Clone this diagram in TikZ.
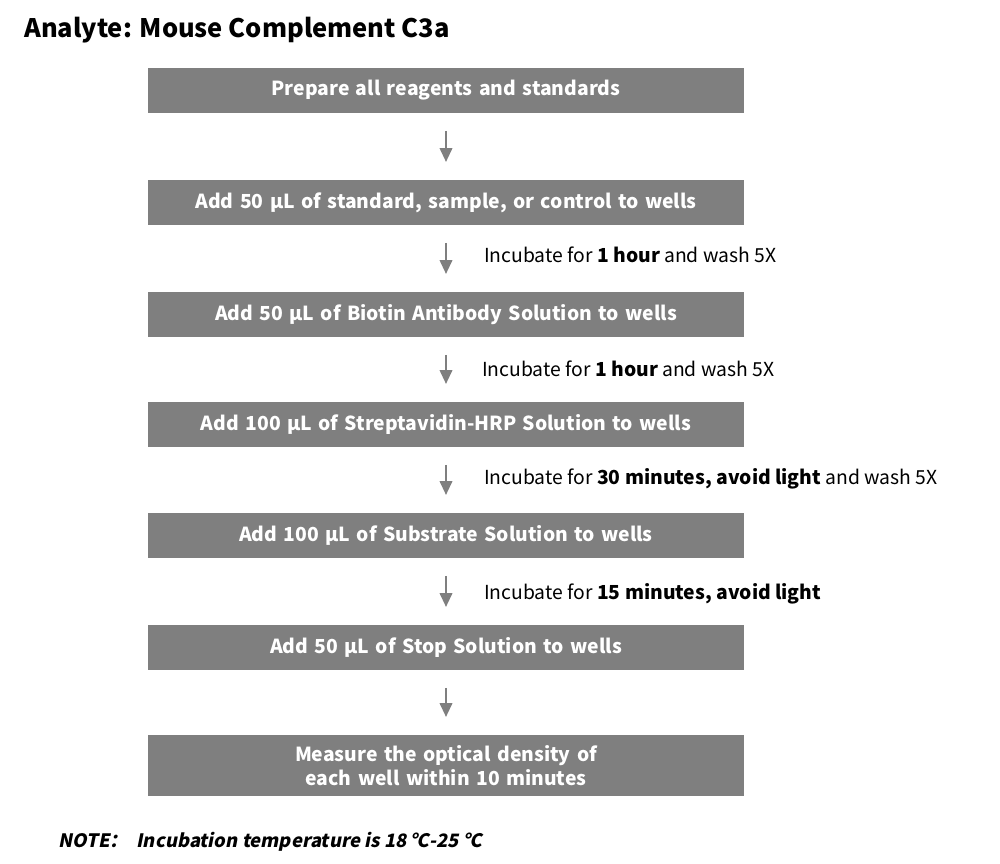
\documentclass[tikz,border=0pt]{standalone}
\usepackage{fontspec}
\setmainfont{Noto Sans CJK SC}
\newfontfamily\notefont[FakeSlant=0.2]{Noto Sans CJK SC}
\usetikzlibrary{positioning,arrows.meta}
\definecolor{stepgray}{HTML}{7F7F7F}
\begin{document}
\begin{tikzpicture}[x=0.02cm, y=-0.02cm,
    stepbox/.style={fill=stepgray, text=white, font=\bfseries\fontsize{11}{14}\selectfont,
        minimum width=11.92cm, minimum height=0.9cm, text width=11.2cm, align=center, inner sep=0pt},
    flow/.style={-{Triangle[width=7pt,length=8pt]}, line width=1.6pt, stepgray},
    info/.style={anchor=west, font=\fontsize{11}{14}\selectfont}]
    \useasboundingbox (0,0) rectangle (1000,864);

    % title
    \node[anchor=west, font=\bfseries\fontsize{14.5}{17}\selectfont] (title) at (18,30) {Analyte: Mouse Complement C3a};

    % steps
    \node[stepbox] (s1) at (446,90.5) {Prepare all reagents and standards};
    \node[stepbox] (s2) at (446,202.5) {Add 50 µL of standard, sample, or control to wells};
    \node[stepbox] (s3) at (446,314.5) {Add 50 µL of Biotin Antibody Solution to wells};
    \node[stepbox] (s4) at (446,424.5) {Add 100 µL of Streptavidin-HRP Solution to wells};
    \node[stepbox] (s5) at (446,535.5) {Add 100 µL of Substrate Solution to wells};
    \node[stepbox] (s6) at (446,647.5) {Add 50 µL of Stop Solution to wells};
    \node[stepbox, minimum height=1.22cm] (s7) at (446,765.5) {Measure the optical density of each well within 10 minutes};

    % arrows
    \foreach \a/\b in {s1/s2,s2/s3,s3/s4,s4/s5,s5/s6,s6/s7}
        \draw[flow] ([yshift=-10pt]\a.south) -- ([yshift=10pt]\b.north);

    % incubation notes
    \node[info] (i2) at (478,255) {Incubate for \textbf{1 hour} and wash 5X};
    \node[info] (i3) at (476,369) {Incubate for \textbf{1 hour} and wash 5X};
    \node[info] (i4) at (478,479) {Incubate for \textbf{30 minutes, avoid light} and wash 5X};
    \node[info] (i5) at (478,594) {Incubate for \textbf{15 minutes, avoid light}};

    % note
    \node[anchor=west, font=\notefont\bfseries\fontsize{10.5}{13}\selectfont] (note) at (52,842)
        {NOTE：\ \ Incubation temperature is 18 ℃-25 ℃};
\end{tikzpicture}
\end{document}
